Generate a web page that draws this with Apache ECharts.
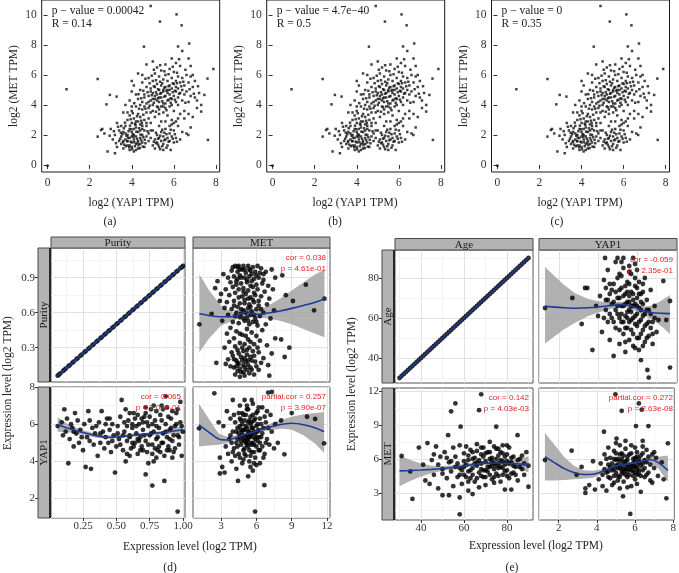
<!DOCTYPE html>
<html><head><meta charset="utf-8">
<script src="https://cdn.jsdelivr.net/npm/echarts@6/dist/echarts.min.js"></script>
<style>html,body{margin:0;padding:0;background:#fff}#c{width:679px;height:573px}</style>
</head><body><div id="c"></div>
<script>
// ---------- DATA ----------
// (a)(b)(c): log2 YAP1 TPM (x) vs log2 MET TPM (y)
const topPoints = [
[0,-0.05],[0.9,5.05],[2.38,5.73],[4.9,10.6],[6.13,10.04],[5.34,9.56],[6.37,9.31],[4.58,7.89],[6.2,7.9],[6.73,8.1],[7.88,6.4],[7.6,5.76],[7.62,1.67],[7.45,4.67],[7.3,3.56],[6.69,2.0],[5.85,1.0],[2.85,0.9],[3.2,0.78],[2.8,4.04],[2.54,2.33],[2.38,1.89],[3.28,4.56],[2.96,4.67],
[3.3,1.2],[3.4,1.6],[3.5,1.9],[3.5,1.4],[3.6,2.2],[3.6,1.1],[3.7,1.7],[3.7,2.6],[3.8,1.3],[3.8,2.0],[3.8,1.6],[3.9,2.4],[3.9,1.0],[3.9,1.8],[4.0,1.5],[4.0,2.2],[4.0,1.2],[4.0,2.8],[4.1,1.7],[4.1,2.0],[4.1,0.9],[4.2,1.4],[4.2,2.5],[4.2,1.9],[4.3,1.6],[4.3,2.2],[4.3,1.1],[4.4,1.8],[4.4,2.7],[4.4,1.4],[4.5,2.0],[4.5,1.5],[4.6,2.3],[4.6,1.2],[4.7,1.9],[4.7,2.6],[4.8,1.6],[4.8,2.1],[3.4,2.3],[3.2,2.0],[3.1,1.7],[3.0,2.4],[2.7,2.1],[2.6,2.4],[3.6,1.6],[3.9,1.3],[4.1,2.4],[4.2,1.0],[3.7,2.1],[4.0,1.9],[4.5,2.4],[4.3,2.9],[4.9,1.8],[3.5,2.6],[3.3,2.8],[3.8,3.0],
[3.45,1.75],[3.55,2.05],[3.65,1.35],[3.75,1.95],[3.85,2.25],[3.95,1.55],[4.05,2.05],[4.15,1.25],[4.25,1.75],[4.35,2.45],[4.45,1.65],[4.55,1.85],[4.65,1.45],[4.75,2.25],[3.62,2.45],[3.72,1.25],[3.82,1.82],[3.92,2.62],[4.02,1.05],[4.12,1.52],[4.22,2.22],[4.32,1.32],[4.42,2.02],[4.52,1.22],[3.48,2.15],[3.58,1.52],[3.68,2.82],[3.78,1.58],[3.88,1.18],[3.98,2.38],[4.08,1.88],[4.18,2.68],[4.28,1.48],[4.38,1.12],[4.48,2.78],[3.25,1.45],[3.15,2.25],[2.95,1.95],[3.35,2.55],[4.62,1.68],
[5.0,1.3],[5.1,1.7],[5.1,1.1],[5.2,2.0],[5.2,1.5],[5.3,1.2],[5.3,1.8],[5.4,1.6],[5.4,2.2],[5.5,1.4],[5.5,1.9],[5.5,1.0],[5.6,1.7],[5.6,2.4],[5.7,1.3],[5.7,1.8],[5.8,1.6],[5.8,2.1],[5.9,1.9],[6.0,1.5],[6.0,2.3],[6.1,1.8],[6.2,2.6],[6.3,1.7],[5.3,2.6],[5.0,2.3],[4.9,2.8],[5.6,2.9],[5.9,2.7],[6.4,2.2],[6.5,3.1],[6.3,3.4],[6.1,2.9],
[5.05,1.55],[5.15,2.15],[5.25,1.35],[5.35,1.95],[5.45,1.25],[5.55,1.65],[5.65,2.05],[5.75,1.55],[5.85,2.35],[5.95,1.75],[6.05,2.05],[5.25,1.75],[5.45,2.35],[5.65,1.15],[5.15,1.45],[5.35,1.05],[5.55,2.15],[6.15,1.55],
[3.9,3.3],[4.0,3.6],[4.1,3.1],[4.2,3.9],[4.3,3.4],[4.4,3.2],[4.5,3.7],[4.6,3.0],[4.0,3.9],[3.8,3.5],[4.2,2.9],[4.7,3.5],[4.8,3.1],[4.4,4.0],
[4.05,3.45],[4.15,2.75],[4.25,3.25],[4.35,3.75],[4.45,2.95],[4.55,3.35],[3.95,3.05],[4.65,3.75],[4.12,4.12],[4.32,4.72],
[4.3,4.4],[4.4,5.0],[4.5,4.2],[4.5,5.5],[4.6,4.7],[4.6,3.9],[4.7,5.2],[4.7,4.1],[4.8,4.6],[4.8,5.8],[4.8,3.8],[4.9,4.3],[4.9,5.1],[5.0,4.0],[5.0,4.8],[5.0,5.6],[5.0,3.6],[5.1,4.4],[5.1,5.2],[5.1,6.1],[5.2,3.9],[5.2,4.7],[5.2,5.4],[5.3,4.2],[5.3,5.0],[5.3,5.9],[5.3,3.7],[5.4,4.5],[5.4,5.3],[5.4,6.3],[5.4,3.9],[5.5,4.1],[5.5,4.9],[5.5,5.7],[5.5,3.5],[5.6,4.6],[5.6,5.2],[5.6,6.0],[5.6,3.8],[5.7,4.3],[5.7,5.0],[5.7,5.6],[5.8,4.7],[5.8,5.3],[5.8,6.4],[5.8,3.9],[5.9,4.4],[5.9,5.1],[5.9,5.8],[6.0,4.6],[6.0,5.4],[6.0,6.2],[6.0,3.6],[6.1,4.9],[6.1,5.6],[6.1,4.2],[6.2,5.1],[6.2,5.9],[6.2,4.5],[6.3,4.8],[6.3,5.5],[6.3,6.6],[6.4,5.0],[6.4,4.3],[6.4,5.8],[6.5,4.7],[6.5,5.3],[6.6,6.0],[6.6,4.9],[6.7,5.5],[6.7,4.2],[6.8,5.9],[6.8,4.6],[6.9,5.2],[7.0,4.5],[7.0,5.6],[7.1,4.3],[7.2,4.8],[7.3,4.0],[4.5,6.0],[4.7,6.7],[5.0,6.9],[5.2,6.5],[5.6,6.7],[5.9,7.1],[6.1,6.8],[6.4,7.6],[6.7,7.1],[6.9,6.0],[6.8,6.6],[4.2,4.7],[4.1,5.3],[4.0,4.9],[3.9,4.3],[4.3,6.1],[4.0,5.6],[3.7,4.0],[3.6,3.5],[6.2,4.0],[6.5,3.6],[6.7,3.4],[6.9,3.2],[7.1,3.8],[6.8,2.5],[6.6,2.1],[4.9,4.9],[5.1,4.6],[5.3,4.5],[5.5,5.0],[5.7,4.8],[5.4,4.8],[5.2,4.3],[5.0,4.4],[5.8,5.0],[5.6,4.1],[4.8,4.2],[4.6,4.5],[5.9,4.0],[6.1,5.2],[5.5,3.9],[5.3,3.4],[4.9,3.5],[5.1,3.2],[5.7,3.3],[5.9,3.0],[6.0,2.8],[5.4,2.9],[4.7,2.8],[4.5,2.6],[4.4,2.3],[4.9,2.3],[5.8,2.6],[6.2,3.1],
[4.95,4.65],[5.05,5.25],[5.15,4.85],[5.25,5.05],[5.35,4.75],[5.45,5.45],[5.55,4.55],[5.65,4.95],[5.75,5.25],[5.85,4.45],[5.95,5.45],[6.05,4.95],[6.15,5.45],[6.25,4.75],[6.35,5.25],[4.85,5.45],[4.75,4.85],[5.05,4.15],[5.25,3.85],[5.45,4.25],[5.65,3.65],[5.85,4.15],[6.05,4.35],[5.15,5.65],[5.35,5.55],[5.55,6.25],[5.75,6.05],[5.95,6.55],[6.15,6.15],[6.45,5.55],[6.55,6.35],[6.25,7.05],[4.65,5.75],[4.55,4.95],[4.45,4.45],[5.35,6.65],[5.05,6.35],[4.95,5.95],[6.55,4.15],[6.75,5.05],[6.95,4.75],[7.15,5.25],[5.25,4.45],[5.55,5.15],[5.75,4.35],[5.95,4.85],[4.85,3.95],[5.15,3.55]
];
const topXTicks = [0,2,4,6,8];
const topYTicks = [0,2,4,6,8,10];
const topPValues = ['p − value = 0.00042','p − value = 4.7e−40','p − value = 0'];
const topRValues = ['R = 0.14','R = 0.5','R = 0.35'];
const topLabels = ['(a)','(b)','(c)'];

// (d) purity / MET / YAP1
const purityValues = [0.06,0.07,0.08,0.1,0.11,0.12,0.14,0.15,0.17,0.18,0.2,0.21,0.23,0.24,0.26,0.27,0.29,0.3,0.32,0.33,0.35,0.36,0.38,0.39,0.41,0.42,0.44,0.45,0.47,0.48,0.5,0.51,0.53,0.54,0.56,0.57,0.59,0.6,0.62,0.63,0.65,0.66,0.68,0.69,0.71,0.72,0.74,0.75,0.77,0.78,0.8,0.81,0.83,0.84,0.86,0.87,0.89,0.9,0.92,0.93,0.95,0.96,0.98,0.99,1.0];
const dMetPurity = [
[4.2,1.0],[4.5,1.0],[4.9,1.0],[5.3,1.0],[5.7,0.99],[6.1,1.0],[4.0,0.99],[6.4,0.98],[3.9,0.96],[4.4,0.95],[4.8,0.97],[5.1,0.94],[5.5,0.96],[5.9,0.95],[6.3,0.94],[6.8,0.95],[7.3,0.97],[3.2,0.93],[3.6,0.9],[4.1,0.91],[4.6,0.92],[5.0,0.9],[5.4,0.91],[5.8,0.89],[6.2,0.9],[6.6,0.88],[7.6,0.9],[8.2,0.92],[2.7,0.87],[3.8,0.86],[4.3,0.87],[4.7,0.85],[5.2,0.86],[5.6,0.87],[6.0,0.84],[6.5,0.85],[7.0,0.83],[10.2,0.84],[2.5,0.81],[3.4,0.8],[4.0,0.82],[4.5,0.8],[4.9,0.81],[5.3,0.79],[5.7,0.82],[6.1,0.8],[6.7,0.78],[7.4,0.8],[8.5,0.75],[3.0,0.76],[3.7,0.75],[4.2,0.77],[4.8,0.74],[5.1,0.76],[5.5,0.73],[5.9,0.75],[6.4,0.74],[7.1,0.72],[9.1,0.7],[2.9,0.7],[3.5,0.69],[4.1,0.7],[4.6,0.68],[5.0,0.71],[5.4,0.67],[5.8,0.69],[6.2,0.66],[6.9,0.67],[11.78,0.72],[3.3,0.64],[3.9,0.63],[4.4,0.65],[4.9,0.62],[5.3,0.64],[5.6,0.61],[6.0,0.63],[6.6,0.6],[7.5,0.62],[10.9,0.62],[2.2,0.59],[3.6,0.58],[4.2,0.57],[4.7,0.59],[5.2,0.56],[5.5,0.58],[5.9,0.55],[6.3,0.57],[7.2,0.55],[1.16,0.5],[3.1,0.53],[4.0,0.52],[4.5,0.51],[5.0,0.53],[5.4,0.5],[5.7,0.52],[6.1,0.49],[6.8,0.5],[3.8,0.47],[5.2,0.46],[6.5,0.45],
[4.4,0.99],[5.0,0.97],[5.6,0.93],[4.7,0.9],[5.2,0.88],[4.3,0.84],[5.5,0.83],[4.9,0.78],[5.3,0.72],[4.5,0.73],[5.8,0.77],[5.0,0.68],[4.7,0.63],[5.5,0.65],[5.1,0.6],[6.2,0.7],[4.3,0.6],[5.8,0.58],[4.9,0.55],[6.0,0.52],[4.6,0.56],[5.3,0.53],[4.4,0.89],[6.0,0.92],[5.7,0.71],[4.1,0.66],[6.4,0.63],[5.4,0.97],[4.6,0.97],[6.6,0.93],
[4.3,0.44],[5.6,0.43],[3.5,0.42],[4.8,0.41],[6.0,0.4],[7.6,0.38],[4.1,0.38],[5.3,0.37],[8.1,0.37],[6.3,0.36],[3.7,0.35],[4.6,0.34],[5.0,0.33],[5.8,0.33],[6.9,0.32],[8.8,0.3],[4.2,0.31],[5.4,0.3],[3.3,0.3],[4.4,0.28],[4.9,0.27],[5.7,0.27],[6.2,0.26],[3.9,0.26],[7.3,0.25],[5.2,0.24],[4.0,0.23],[4.7,0.22],[5.5,0.22],[6.6,0.21],[8.4,0.22],[3.6,0.2],[4.3,0.19],[4.8,0.19],[5.1,0.18],[5.9,0.18],[6.4,0.17],[2.6,0.17],[3.4,0.16],[4.5,0.16],[5.3,0.15],[6.0,0.14],[7.0,0.15],[3.8,0.14],[4.1,0.13],[4.6,0.12],[5.0,0.13],[5.6,0.11],[6.2,0.11],[4.4,0.1],[4.9,0.09],[5.4,0.08],[5.8,0.07],[7.1,0.06],[4.2,0.07],
[4.6,0.42],[5.1,0.4],[5.5,0.35],[4.8,0.3],[5.2,0.28],[4.5,0.25],[5.0,0.21],[5.6,0.19],[4.4,0.17],[4.9,0.15],[5.2,0.11],[4.7,0.09],[5.5,0.13],[5.8,0.23],[4.1,0.2],[6.1,0.3],[4.3,0.14],[5.0,0.06],[4.6,0.05],[5.3,0.19]
];
const dPurityYap = [
[0.06,5.9],[0.09,6.1],[0.11,6.8],[0.12,5.6],[0.13,6.3],[0.14,3.9],[0.15,5.2],[0.16,6.0],[0.17,5.8],[0.18,4.8],[0.19,6.6],[0.2,5.5],[0.21,6.2],[0.22,5.0],[0.23,5.7],[0.25,4.6],[0.26,6.0],[0.27,3.7],[0.28,5.3],[0.29,6.7],[0.3,5.1],[0.31,3.6],[0.32,5.8],[0.33,4.9],[0.34,5.5],[0.36,4.3],[0.37,6.1],[0.38,5.0],[0.39,6.7],[0.4,5.6],[0.41,4.7],[0.42,5.3],[0.43,6.3],[0.44,5.0],[0.45,5.7],[0.46,4.5],[0.47,6.0],[0.48,5.4],[0.49,3.4],[0.5,4.8],[0.51,5.9],[0.52,5.2],[0.53,6.4],[0.54,7.3],[0.55,4.6],[0.56,5.6],[0.57,4.0],[0.58,5.1],[0.59,6.2],[0.6,5.4],[0.61,4.7],[0.62,5.8],[0.63,6.6],[0.64,5.0],[0.65,5.5],[0.66,4.4],[0.67,6.0],[0.68,5.3],[0.69,4.8],[0.7,5.7],[0.71,6.4],[0.72,3.3],[0.72,5.1],[0.73,4.5],[0.74,3.9],[0.74,5.9],[0.75,5.4],[0.76,6.8],[0.77,4.9],[0.77,2.7],[0.78,4.0],[0.78,5.6],[0.79,6.2],[0.8,5.2],[0.81,4.6],[0.82,5.8],[0.83,6.5],[0.84,5.0],[0.85,5.5],[0.86,4.3],[0.86,2.95],[0.87,7.5],[0.87,6.0],[0.88,5.3],[0.89,4.8],[0.9,5.7],[0.91,6.3],[0.92,5.1],[0.93,4.5],[0.94,5.9],[0.95,6.6],[0.96,1.3],[0.96,5.4],[0.97,4.9],[0.98,7.2],[0.98,6.1],[0.99,4.3],[1.0,5.6],[0.66,5.2],[0.7,6.1],[0.8,4.2],[0.62,5.0],[0.58,5.9],[0.85,6.8],[0.9,4.6],[0.75,6.4],[0.55,5.4],[0.64,6.3],[0.82,4.8],[0.92,6.7],[0.68,4.6],[0.78,7.0],[0.72,6.9],[0.6,6.6],[0.45,6.3],
[0.51,5.5],[0.53,4.9],[0.56,6.1],[0.58,4.4],[0.6,5.3],[0.62,6.0],[0.63,4.8],[0.65,5.9],[0.67,5.1],[0.69,6.3],[0.7,4.6],[0.71,5.4],[0.73,6.1],[0.74,4.9],[0.76,5.5],[0.77,6.0],[0.79,4.7],[0.8,5.9],[0.81,5.3],[0.83,4.5],[0.84,6.2],[0.85,5.0],[0.87,5.6],[0.88,4.6],[0.89,6.4],[0.9,5.2],[0.91,5.8],[0.93,5.4],[0.94,4.7],[0.95,6.0],[0.97,5.3],[0.99,5.9],[0.35,5.9],[0.38,5.5],[0.42,6.0],[0.47,5.1],[0.3,6.2],[0.24,5.3],[0.18,5.6],[0.1,5.4],[0.66,6.5],[0.72,6.6],[0.8,6.7],[0.88,6.9],[0.6,4.3],[0.77,4.4],[0.92,4.2],[0.57,6.8],[0.84,7.0],[0.96,6.8]
];
const dMetYap = [
[1.13,5.78],[2.43,7.66],[2.8,6.1],[2.9,4.2],[2.9,3.35],[3.1,3.7],[3.2,5.9],[3.3,3.4],[3.4,4.8],[3.5,6.7],[3.6,4.4],[3.7,5.2],[3.8,6.3],[3.9,4.0],[4.0,5.6],[4.0,7.3],[4.1,4.7],[4.2,6.1],[4.3,5.0],[4.3,3.6],[4.44,2.95],[4.4,5.8],[4.5,4.4],[4.5,6.6],[4.6,5.3],[4.6,7.0],[4.7,4.9],[4.7,6.2],[4.8,3.9],[4.8,5.6],[4.9,4.6],[4.9,6.5],[5.0,5.1],[5.0,7.3],[5.1,4.3],[5.1,5.9],[5.2,5.4],[5.2,6.8],[5.3,3.2],[5.3,4.8],[5.3,6.1],[5.4,5.6],[5.4,4.0],[5.5,5.0],[5.5,6.4],[5.6,4.5],[5.6,5.8],[5.7,3.5],[5.7,5.3],[5.7,7.1],[5.8,4.9],[5.8,6.2],[5.89,1.3],[5.9,5.5],[5.9,4.2],[6.0,5.9],[6.0,3.8],[6.1,5.1],[6.1,6.7],[6.2,4.6],[6.2,5.7],[6.3,6.3],[6.3,3.9],[6.4,5.3],[6.5,4.8],[6.5,6.9],[6.6,5.8],[6.68,2.72],[6.7,4.4],[6.8,6.1],[6.9,5.2],[7.0,7.7],[7.1,4.9],[7.2,6.5],[7.3,5.6],[7.31,7.73],[7.5,4.7],[7.6,6.0],[7.82,5.0],[8.1,6.2],[8.38,4.38],[9.0,6.6],[10.3,6.4],[10.99,6.28],[11.75,4.97],[4.6,5.9],[5.0,5.7],[5.2,5.1],[5.4,5.3],[4.8,5.4],[5.6,5.5],[5.5,6.0],[4.9,5.2],[5.3,5.6],[5.1,5.0],[4.7,5.7],[5.7,5.0],[6.0,5.3],[4.4,5.2],[5.9,6.3],[4.2,4.3],[3.9,5.0],[5.0,4.7],[6.3,4.6],
[4.5,5.5],[4.6,6.3],[4.7,5.1],[4.8,6.0],[4.9,5.7],[5.0,6.2],[5.0,4.4],[5.1,6.5],[5.1,5.3],[5.2,4.9],[5.2,5.8],[5.3,5.2],[5.3,6.8],[5.4,6.2],[5.4,4.6],[5.5,5.4],[5.5,4.3],[5.6,6.1],[5.6,4.9],[5.7,5.8],[5.7,6.5],[5.8,5.6],[5.8,4.5],[5.9,5.2],[6.0,6.6],[6.0,4.8],[6.1,5.6],[6.1,6.0],[6.2,5.3],[6.3,5.0],[6.4,6.0],[6.5,5.5],[4.3,5.6],[4.4,4.8],[4.6,4.2],[4.8,6.6],[4.9,4.1],[5.2,7.0],[5.6,7.3],[6.2,6.9],[6.7,6.4],[6.8,5.0],[4.1,6.5],[3.8,5.4],[4.0,4.5],[5.8,3.9],[5.5,3.7],[6.6,4.2],[7.0,5.8],[6.9,6.7]
];
const dFitMetPurity = [[1.16,0.59],[2,0.575],[3,0.565],[3.8,0.565],[4.6,0.585],[5.2,0.61],[5.6,0.59],[6.2,0.587],[7,0.597],[8,0.615],[9,0.637],[10,0.662],[11,0.69],[11.78,0.72]];
const dBandMetPurity = [[1.16,0.26,0.93],[2,0.38,0.79],[3,0.49,0.66],[4,0.53,0.6],[5,0.57,0.64],[6,0.56,0.62],[7,0.55,0.66],[8,0.53,0.72],[9,0.5,0.79],[10,0.46,0.86],[11,0.42,0.93],[11.78,0.39,0.97]];
const dFitPurityYap = [[0.06,5.98],[0.15,5.75],[0.25,5.55],[0.35,5.38],[0.43,5.3],[0.5,5.31],[0.57,5.36],[0.65,5.42],[0.74,5.48],[0.85,5.55],[0.93,5.63],[1.0,5.7]];
const dBandPurityYap = [[0.06,5.6,6.38],[0.15,5.55,5.95],[0.25,5.42,5.68],[0.35,5.27,5.49],[0.45,5.21,5.39],[0.55,5.27,5.43],[0.65,5.34,5.5],[0.75,5.4,5.56],[0.85,5.45,5.65],[0.93,5.48,5.78],[1.0,5.5,5.9]];
const dFitMetYap = [[1.13,5.96],[2,5.55],[2.8,5.2],[3.5,5.15],[4.2,5.27],[5,5.45],[5.7,5.56],[6.5,5.72],[7.3,5.88],[8.2,6.0],[9,6.05],[10,5.97],[11,5.8],[11.75,5.6]];
const dBandMetYap = [[1.13,4.8,7.1],[2,4.85,6.25],[2.8,4.9,5.5],[3.5,4.97,5.33],[4.2,5.15,5.39],[5,5.37,5.53],[5.7,5.47,5.65],[6.5,5.6,5.84],[7.3,5.7,6.06],[8.2,5.75,6.25],[9,5.7,6.4],[10,5.4,6.54],[11,4.95,6.6],[11.75,4.45,6.65]];

// (e) age / YAP1 / MET
const ageValues = [30,31,32,33,34,35,36,37,38,39,40,41,42,43,44,45,46,47,48,49,50,51,52,53,54,55,56,57,58,59,60,61,62,63,64,65,66,67,68,69,70,71,72,73,74,75,76,77,78,79,80,81,82,83,84,85,86,87,88,89,90];
const eYapAge = [
[1.28,65],[2.68,70],[3.16,57],[3.33,75],[3.45,75],[3.71,44],[3.9,66],[4.0,61],[4.1,71],[4.2,53],[4.3,79],[4.36,90],[4.4,64],[4.5,58],[4.5,84],[4.6,49],[4.6,72],[4.7,67],[4.8,41],[4.8,77],[4.9,55],[4.9,88],[5.0,62],[5.0,70],[5.0,90],[5.1,47],[5.1,74],[5.2,58],[5.2,81],[5.3,66],[5.3,52],[5.3,90],[5.4,72],[5.4,43],[5.4,61],[5.5,78],[5.5,55],[5.5,68],[5.6,86],[5.6,49],[5.6,64],[5.7,73],[5.7,59],[5.7,82],[5.8,90],[5.8,66],[5.8,52],[5.9,76],[5.9,61],[5.9,45],[6.0,70],[6.0,56],[6.0,84],[6.1,65],[6.1,50],[6.1,78],[6.2,59],[6.2,38.9],[6.2,72],[6.3,54],[6.3,67],[6.4,62],[6.4,48],[6.4,80],[6.5,57],[6.5,69],[6.53,34],[6.6,30.2],[6.6,51],[6.6,64],[6.7,74],[6.8,47],[6.8,58],[6.9,66],[7.0,53],[7.1,59],[7.35,78.5],[7.5,59],[7.69,68.5],[7.69,35.2],[5.2,66],[5.5,63],[5.8,69],[5.4,76],[5.0,80],[4.8,68],[5.6,71],[5.1,60],[4.7,60],[6.0,62],[5.3,85],[5.7,66],[4.9,73],[6.2,64],[5.9,57],[4.4,69],[6.3,77],[5.6,58],[5.1,82],[4.6,77],
[5.0,66],[5.1,70],[5.2,62],[5.2,75],[5.3,58],[5.3,71],[5.4,67],[5.4,55],[5.5,73],[5.5,60],[5.6,68],[5.6,77],[5.7,54],[5.7,63],[5.8,72],[5.8,60],[5.9,67],[5.9,80],[6.0,66],[6.0,50],[6.1,72],[6.1,58],[6.2,68],[6.2,52],[6.3,61],[6.3,73],[6.4,56],[6.5,64],[6.5,50],[6.6,58],[6.7,62],[6.8,52],[4.9,64],[4.8,58],[4.7,74],[4.6,62],[4.5,69],[5.6,83],[5.9,87],[5.2,88],[6.1,44],[6.3,46],[6.7,55],[6.9,60],[5.4,48],[5.8,46],[5.1,54],[4.4,75],[4.3,60],[6.0,75]
];
const eAgeMet = [
[31,6.26],[35,4.9],[36,2.47],[39,7.0],[41,5.5],[42,4.1],[43,7.4],[44,3.8],[45,5.9],[46,4.6],[47,7.1],[48,3.4],[49,6.2],[50,2.8],[50,5.1],[51,6.6],[52,4.3],[52.6,8.1],[53,2.8],[53,5.7],[54,10.2],[54,4.9],[55,7.0],[55,3.6],[56,10.9],[56,6.2],[57,4.4],[57,5.6],[58,1.12],[58,2.6],[58.4,8.85],[58,7.2],[59,5.0],[59,3.8],[60,6.5],[60,4.6],[61,5.5],[61,7.1],[62,3.2],[62,5.9],[63,4.3],[63,6.8],[64,5.2],[64,2.9],[65,6.1],[65,4.0],[66,5.7],[66,7.3],[67,10.3],[67,4.8],[67,3.5],[68,11.7],[68,6.4],[68,5.1],[69,4.4],[69,7.0],[70,5.8],[70,3.7],[71,6.6],[71,4.9],[72,5.3],[72,7.5],[73,4.2],[73,6.1],[74,5.6],[74,3.9],[75,8.85],[75,6.9],[75,4.7],[76,5.2],[76,6.3],[77,4.0],[77,5.9],[78,7.2],[78,4.6],[79,5.5],[79,3.3],[80,6.4],[80,5.0],[81,4.3],[81,7.0],[82,3.3],[82,5.7],[83,6.2],[83,4.8],[84,5.3],[84.9,8.1],[85,4.1],[86,6.0],[87,5.1],[88,4.6],[89,6.6],[90,3.55],[90,5.4],[66,5.4],[70,5.0],[72,6.0],[74,4.4],[76,5.6],[78,5.2],[68,4.5],[64,6.0],[62,4.9],[60,5.8],[58,5.2],[80,5.8],[73,5.4],[69,6.2],
[60,5.3],[61,4.4],[62,6.3],[63,5.0],[64,4.6],[65,5.6],[66,4.3],[67,5.9],[68,5.6],[69,5.0],[70,6.5],[70,4.4],[71,5.3],[72,4.6],[73,5.8],[74,5.1],[75,6.0],[75,5.4],[76,4.5],[77,5.3],[77,6.6],[78,5.8],[79,4.9],[79,6.2],[80,4.5],[81,5.6],[82,6.1],[82,4.7],[83,5.4],[84,4.6],[85,5.9],[86,5.3],[87,6.3],[88,5.6],[64,6.6],[66,6.7],[68,7.0],[72,6.6],[74,7.1],[76,6.9],[78,6.5],[80,7.2],[58,4.6],[56,5.3],[54,5.8],[52,6.1],[50,4.7],[48,5.5],[46,6.4],[62,4.0]
];
const eYapMet = [
[1.28,5.9],[2.68,6.73],[2.94,4.6],[3.2,5.3],[3.4,3.4],[3.4,3.0],[3.6,3.7],[3.8,5.8],[3.9,3.3],[4.1,4.2],[4.2,5.6],[4.3,3.6],[4.37,8.4],[4.4,6.4],[4.5,4.8],[4.5,3.2],[4.6,5.5],[4.6,7.0],[4.7,4.3],[4.7,6.1],[4.8,5.0],[4.8,3.7],[4.9,6.7],[4.9,4.5],[4.97,11.7],[5.0,5.4],[5.0,7.4],[5.03,7.8],[5.1,4.1],[5.1,6.0],[5.2,5.2],[5.2,3.4],[5.3,10.25],[5.3,6.5],[5.3,4.7],[5.37,2.7],[5.4,5.7],[5.4,4.0],[5.5,6.9],[5.5,5.1],[5.6,4.4],[5.6,6.2],[5.7,5.5],[5.75,1.15],[5.8,3.6],[5.8,7.2],[5.9,4.9],[5.9,6.0],[6.0,5.3],[6.0,4.2],[6.05,8.9],[6.1,6.6],[6.1,4.6],[6.2,10.9],[6.2,5.7],[6.3,3.1],[6.35,10.35],[6.3,6.3],[6.4,5.0],[6.4,7.6],[6.5,4.4],[6.5,5.9],[6.6,6.8],[6.7,8.9],[6.7,4.8],[6.8,5.5],[6.9,3.9],[6.9,6.4],[7.0,5.2],[7.1,6.1],[7.2,4.5],[7.4,5.7],[7.5,4.2],[7.64,2.53],[7.72,7.38],[5.0,5.9],[5.2,6.4],[5.4,4.8],[5.6,5.3],[5.8,5.0],[5.5,5.8],[5.7,4.6],[5.1,5.5],[6.0,6.1],[6.2,5.0],[4.9,5.1],[5.3,5.4],[5.9,5.6],[6.1,5.4],[4.6,4.9],
[4.8,5.6],[4.9,6.0],[5.0,4.8],[5.0,6.5],[5.1,5.2],[5.1,4.5],[5.2,5.8],[5.2,4.4],[5.3,6.0],[5.3,5.0],[5.4,6.3],[5.4,5.1],[5.5,4.6],[5.5,5.5],[5.6,5.9],[5.6,4.9],[5.7,6.4],[5.7,5.1],[5.8,5.4],[5.8,6.5],[5.9,4.5],[5.9,5.3],[6.0,5.8],[6.0,4.8],[6.1,5.1],[6.1,6.2],[6.2,4.7],[6.2,6.0],[6.3,5.4],[6.3,4.5],[6.4,5.6],[6.4,6.5],[6.5,5.2],[6.6,4.6],[6.6,5.7],[6.7,6.2],[4.6,4.4],[4.7,5.3],[4.4,5.1],[4.3,4.6],[4.5,6.0],[5.2,7.2],[5.5,7.6],[6.0,7.0],[6.4,7.1],[4.9,3.9],[5.6,3.5],[6.1,3.8],[6.8,4.1],[7.0,6.6]
];
const eFitYapAge = [[1.28,65.8],[2.2,65.2],[2.8,64.9],[3.5,65.1],[4.1,65.6],[4.7,66.3],[5.1,66.7],[5.5,66.5],[5.85,65.5],[6.3,63.6],[6.8,62.6],[7.3,62.3],[7.69,62.2]];
const eBandYapAge = [[1.28,47.3,85.5],[2.2,54,77],[2.8,57.5,72.5],[3.5,61,69.5],[4.1,63,68.3],[4.7,64.6,68],[5.1,65.3,68.1],[5.5,65,68],[5.85,63.9,67.1],[6.3,61.5,65.7],[6.8,59,66.3],[7.3,55.5,69],[7.69,52,71.5]];
const eFitAgeMet = [[30,4.95],[35,4.98],[40,5.02],[45,5.08],[50,5.16],[55,5.26],[60,5.38],[65,5.53],[70,5.63],[75,5.65],[80,5.62],[85,5.57],[90,5.52]];
const eBandAgeMet = [[30,3.6,6.3],[35,4.05,5.9],[40,4.45,5.6],[45,4.75,5.4],[50,4.95,5.37],[55,5.08,5.44],[60,5.2,5.56],[65,5.36,5.7],[70,5.47,5.79],[75,5.47,5.83],[80,5.38,5.86],[85,5.15,5.99],[90,4.8,6.24]];
const eFitYapMet = [[1.28,6.2],[1.8,5.65],[2.3,5.15],[2.8,4.8],[3.3,4.63],[3.8,4.65],[4.3,4.9],[4.8,5.28],[5.3,5.48],[5.8,5.6],[6.3,5.78],[6.8,5.93],[7.2,5.7],[7.72,5.0]];
const eBandYapMet = [[1.28,4.1,8.3],[1.8,4.1,7.2],[2.3,4.15,6.15],[2.8,4.2,5.4],[3.3,4.25,5.0],[3.8,4.35,4.95],[4.3,4.7,5.1],[4.8,5.14,5.42],[5.3,5.36,5.6],[5.8,5.47,5.73],[6.3,5.58,5.98],[6.8,5.6,6.26],[7.2,5.2,6.2],[7.72,4.0,6.3]];

// tick labels
const dPurityTicks = [0.25,0.5,0.75,1.0], dPurityMinor = [0.125,0.375,0.625,0.875];
const dMetTicks = [3,6,9,12], dMetMinor = [1.5,4.5,7.5,10.5];
const dPurityYTicks = [0.3,0.6,0.9], dPurityYMinor = [0.15,0.45,0.75,1.05];
const dYapYTicks = [2,4,6,8], dYapYMinor = [1,3,5,7];
const eAgeTicks = [40,60,80], eAgeMinor = [30,50,70,90];
const eYapTicks = [2,4,6,8], eYapMinor = [1,3,5,7];
const eMetYTicks = [3,6,9,12], eMetYMinor = [1.5,4.5,7.5,10.5];

const annotations = {
  dTR: ['cor = 0.038','p = 4.61e-01'],
  dBL: ['cor = 0.065','p = 2.08e-01'],
  dBR: ['partial.cor = 0.257','p = 3.90e-07'],
  eTR: ['cor = -0.059','p = 2.35e-01'],
  eBL: ['cor = 0.142','p = 4.03e-03'],
  eBR: ['partial.cor = 0.272','p = 2.63e-08']
};

// ---------- BUILD ----------
const SERIF = '"Liberation Serif","DejaVu Serif",serif';
const SANS = '"Liberation Sans",Arial,sans-serif';
const grids = [], xAxes = [], yAxes = [], series = [], graphics = [];

function mainAxis(gi, min, max, ticks, showLab, gridOn, offset, fmt) {
  return {gridIndex: gi, type: 'value', min: min, max: max, offset: offset || 0,
    axisLine: {show: false},
    axisTick: {show: showLab, customValues: ticks, length: 3, lineStyle: {color: '#333', width: 1}},
    axisLabel: {show: showLab, customValues: ticks, fontFamily: SERIF, fontSize: 11, color: '#333', margin: 3,
      formatter: fmt || null, showMinLabel: true, showMaxLabel: true},
    splitLine: {show: gridOn, lineStyle: {color: '#e2e2e2', width: 1}},
    minorTick: {show: false}, minorSplitLine: {show: false}};
}
function minorAxis(gi, min, max, vals) {
  return {gridIndex: gi, type: 'value', min: min, max: max,
    axisLine: {show: false}, axisTick: {show: false, customValues: vals},
    axisLabel: {show: false, customValues: vals},
    splitLine: {show: true, lineStyle: {color: '#f1f1f1', width: 0.8}}};
}
function bandSeries(xi, yi, band) {
  return {type: 'custom', xAxisIndex: xi, yAxisIndex: yi, data: band, encode: {x: 0, y: [1, 2]},
    silent: true, z: 2, clip: true,
    renderItem: function (params, api) {
      if (params.dataIndex !== 0) return null;
      const pts = [];
      for (let i = 0; i < band.length; i++) pts.push(api.coord([band[i][0], band[i][2]]));
      for (let i = band.length - 1; i >= 0; i--) pts.push(api.coord([band[i][0], band[i][1]]));
      return {type: 'polygon', shape: {points: pts}, style: {fill: '#a3a3a3', opacity: 0.85}};
    }};
}
function txt(x, y, s, o) {
  o = o || {};
  return {type: 'text', x: x, y: y, rotation: o.rot || 0, z: 100, silent: true,
    style: {text: s, fill: o.color || '#222', fontSize: o.size || 11, fontFamily: o.family || SERIF,
      align: o.align || 'center', verticalAlign: o.valign || 'middle'}};
}

// top row
const topLefts = [41.7, 266.7, 491.5];
const topTitleX = [131, 355, 580];
const topCapX = [110, 335, 557];
const topYTitleX = [14, 239, 464];
topLefts.forEach(function (L, k) {
  const gi = grids.length;
  grids.push({left: L, top: 0, width: 178, height: 172, show: true, borderColor: '#1a1a1a', borderWidth: 1, backgroundColor: '#fff'});
  const xi = xAxes.length, yi = yAxes.length;
  xAxes.push(mainAxis(gi, -0.28, 8.18, topXTicks, true, false, 0));
  xAxes[xi].axisTick.length = 4; xAxes[xi].axisLabel.margin = 5; xAxes[xi].axisLabel.fontSize = 11.5;
  yAxes.push(mainAxis(gi, -0.47, 11, topYTicks, true, false, 0));
  yAxes[yi].axisTick.length = 4; yAxes[yi].axisLabel.margin = 5; yAxes[yi].axisLabel.fontSize = 11.5;
  series.push({type: 'scatter', xAxisIndex: xi, yAxisIndex: yi, data: topPoints, symbol: 'rect', symbolSize: 2.5,
    itemStyle: {color: '#111'}, silent: true, z: 3});
  graphics.push(txt(L + 10, 11, topPValues[k], {align: 'left', size: 11.5}));
  graphics.push(txt(L + 10, 24, topRValues[k], {align: 'left', size: 11.5}));
  graphics.push(txt(topTitleX[k], 203, 'log2 (YAP1 TPM)', {size: 11.5}));
  graphics.push(txt(topCapX[k], 222, topLabels[k], {size: 11.5}));
  graphics.push(txt(topYTitleX[k], 86, 'log2 (MET TPM)', {rot: Math.PI / 2, size: 11.5}));
});

// facet panels
function facet(p) {
  const gi = grids.length;
  grids.push({left: p.l, top: p.t, width: p.w, height: p.h, show: true, borderColor: '#555', borderWidth: 1, backgroundColor: '#fff'});
  const xi = xAxes.length;
  xAxes.push(mainAxis(gi, p.xr[0], p.xr[1], p.xt, p.xlab, true, 0, p.xfmt));
  xAxes.push(minorAxis(gi, p.xr[0], p.xr[1], p.xm));
  const yi = yAxes.length;
  yAxes.push(mainAxis(gi, p.yr[0], p.yr[1], p.yt, p.ylab, true, p.ylab ? 13 : 0, p.yfmt));
  yAxes.push(minorAxis(gi, p.yr[0], p.yr[1], p.ym));
  if (p.band) series.push(bandSeries(xi, yi, p.band));
  series.push({type: 'scatter', xAxisIndex: xi, yAxisIndex: yi, data: p.pts, symbol: 'circle', symbolSize: 4.8,
    itemStyle: {color: '#000'}, silent: true, z: 3});
  series.push({type: 'line', xAxisIndex: xi, yAxisIndex: yi, data: p.fit, smooth: 0.3, showSymbol: false,
    lineStyle: {color: '#1d3c96', width: 1.6}, silent: true, z: 4});
  if (p.ann) {
    graphics.push(txt(p.l + p.w - 4, p.t + 9.5, p.ann[0], {align: 'right', family: SANS, size: 8, color: '#ee1d1d'}));
    graphics.push(txt(p.l + p.w - 4, p.t + 20.5, p.ann[1], {align: 'right', family: SANS, size: 8, color: '#ee1d1d'}));
  }
}
const f2 = function (v) { return v.toFixed(2); };
const purityDiag = purityValues.map(function (v) { return [v, v]; });
const ageDiag = ageValues.map(function (v) { return [v, v]; });
const purityDiagFit = [[purityValues[0], purityValues[0]], [purityValues[purityValues.length - 1], purityValues[purityValues.length - 1]]];
const ageDiagFit = [[ageValues[0], ageValues[0]], [ageValues[ageValues.length - 1], ageValues[ageValues.length - 1]]];

const dXL = [0.01, 1.015], dXR = [0.62, 12.25], dYT = [0.006, 1.154], dYB = [0.957, 8.0];
const eXL = [27.9, 92.1], eXR = [0.97, 8.05], eYT = [27.5, 94], eYB = [0.615, 12.26];

facet({l: 51, t: 248, w: 134, h: 134, xr: dXL, xt: dPurityTicks, xm: dPurityMinor, xlab: false, xfmt: f2,
  yr: dYT, yt: dPurityYTicks, ym: dPurityYMinor, ylab: true, pts: purityDiag, fit: purityDiagFit});
facet({l: 193, t: 248, w: 137, h: 134, xr: dXR, xt: dMetTicks, xm: dMetMinor, xlab: false,
  yr: dYT, yt: dPurityYTicks, ym: dPurityYMinor, ylab: false, pts: dMetPurity, fit: dFitMetPurity, band: dBandMetPurity, ann: annotations.dTR});
facet({l: 51, t: 387, w: 134, h: 131, xr: dXL, xt: dPurityTicks, xm: dPurityMinor, xlab: true, xfmt: f2,
  yr: dYB, yt: dYapYTicks, ym: dYapYMinor, ylab: true, pts: dPurityYap, fit: dFitPurityYap, band: dBandPurityYap, ann: annotations.dBL});
facet({l: 193, t: 387, w: 137, h: 131, xr: dXR, xt: dMetTicks, xm: dMetMinor, xlab: true,
  yr: dYB, yt: dYapYTicks, ym: dYapYMinor, ylab: false, pts: dMetYap, fit: dFitMetYap, band: dBandMetYap, ann: annotations.dBR});

facet({l: 395, t: 250, w: 138, h: 133, xr: eXL, xt: eAgeTicks, xm: eAgeMinor, xlab: false,
  yr: eYT, yt: eAgeTicks, ym: eAgeMinor, ylab: true, pts: ageDiag, fit: ageDiagFit});
facet({l: 539, t: 250, w: 138, h: 133, xr: eXR, xt: eYapTicks, xm: eYapMinor, xlab: false,
  yr: eYT, yt: eAgeTicks, ym: eAgeMinor, ylab: false, pts: eYapAge, fit: eFitYapAge, band: eBandYapAge, ann: annotations.eTR});
facet({l: 395, t: 388, w: 138, h: 132, xr: eXL, xt: eAgeTicks, xm: eAgeMinor, xlab: true,
  yr: eYB, yt: eMetYTicks, ym: eMetYMinor, ylab: true, pts: eAgeMet, fit: eFitAgeMet, band: eBandAgeMet, ann: annotations.eBL});
facet({l: 539, t: 388, w: 138, h: 132, xr: eXR, xt: eYapTicks, xm: eYapMinor, xlab: true,
  yr: eYB, yt: eMetYTicks, ym: eMetYMinor, ylab: false, pts: eYapMet, fit: eFitYapMet, band: eBandYapMet, ann: annotations.eBR});

// strips
function stripTop(x, y, w, h, label) {
  graphics.push({type: 'rect', shape: {x: x, y: y, width: w, height: h}, style: {fill: '#b3b3b3', stroke: '#4a4a4a', lineWidth: 1}, z: 50, silent: true});
  graphics.push(txt(x + w / 2, y + h / 2 + 0.5, label, {size: 11, color: '#1a1a1a'}));
}
function stripLeft(x, y, w, h, label) {
  graphics.push({type: 'rect', shape: {x: x, y: y, width: w, height: h}, style: {fill: '#b3b3b3', stroke: '#4a4a4a', lineWidth: 1}, z: 50, silent: true});
  graphics.push({type: 'line', shape: {x1: x + w, y1: y, x2: x + w, y2: y + h}, style: {stroke: '#111', lineWidth: 1.6}, z: 51, silent: true});
  graphics.push(txt(x + w / 2 + 0.5, y + h / 2, label, {size: 11, color: '#1a1a1a', rot: Math.PI / 2}));
}
stripTop(51, 237, 134, 11, 'Purity');
stripTop(193, 237, 137, 11, 'MET');
stripLeft(38, 248, 12, 134, 'Purity');
stripLeft(38, 387, 12, 131, 'YAP1');
stripTop(395, 238.5, 138, 11.5, 'Age');
stripTop(539, 238.5, 138, 11.5, 'YAP1');
stripLeft(382, 250, 12, 133, 'Age');
stripLeft(382, 388, 12, 132, 'MET');

// facet titles & captions
graphics.push(txt(190, 547, 'Expression level (log2 TPM)', {size: 11.5}));
graphics.push(txt(536, 546, 'Expression level (log2 TPM)', {size: 11.5}));
graphics.push(txt(8, 383, 'Expression level (log2 TPM)', {size: 11.5, rot: Math.PI / 2}));
graphics.push(txt(352, 384, 'Expression level (log2 TPM)', {size: 11.5, rot: Math.PI / 2}));
graphics.push(txt(170, 568, '(d)', {size: 11.5}));
graphics.push(txt(512, 568, '(e)', {size: 11.5}));

const chart = echarts.init(document.getElementById('c'), null, {renderer: 'canvas', width: 679, height: 573});
chart.setOption({animation: false, backgroundColor: '#fff', grid: grids, xAxis: xAxes, yAxis: yAxes, series: series, graphic: graphics});
</script></body></html>
